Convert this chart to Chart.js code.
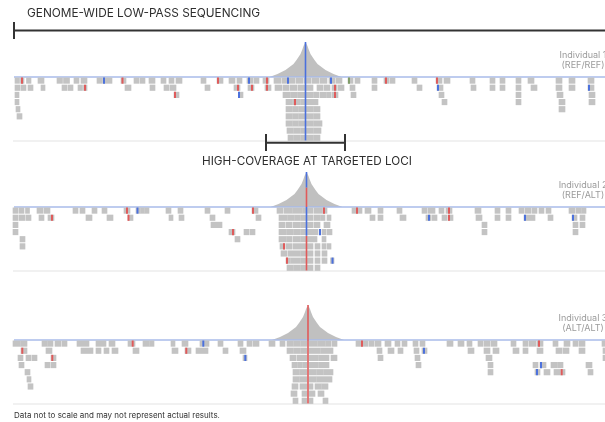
<!DOCTYPE html>
<html>
<head>
<meta charset="utf-8">
<script src="https://cdn.jsdelivr.net/npm/chart.js@4"></script>
<style>
  html, body { margin: 0; padding: 0; background: #fff; }
  canvas { display: block; }
</style>
</head>
<body>
<canvas id="c" width="605" height="422"></canvas>
<script>
// ---- data (positions in track units along the genome) ----
const individuals = ['Individual 1', 'Individual 2', 'Individual 3'];
const genotypes = ['(REF/REF)', '(REF/ALT)', '(ALT/ALT)'];
const locusPos = [305.5, 306.5, 308];
const targetWindow = [266, 345];
const genomeSpan = [14, 612];

// read depth piled up over the targeted locus
const coverageOffset = [-36, -32, -28, -24, -20, -16, -12, -9, -7, -5, -3, -2, -1, 0, 1, 2, 3, 5, 7, 9, 12, 16, 20, 24, 28, 32, 36];
const coverageDepth  = [0, 1.5, 3, 5, 7, 10, 13, 17, 20, 23, 28, 31, 33, 35, 33, 31, 28, 23, 20, 17, 13, 10, 7, 5, 3, 1.5, 0];

// allele carried by each stacked read at the locus
const ind1Locus = ['REF', 'REF', 'REF', 'REF', 'REF', 'REF', 'REF', 'REF', 'REF'];
const ind2Locus = ['REF', 'REF', 'REF', 'REF', 'ALT', 'ALT', 'ALT', 'ALT', 'ALT'];
const ind3Locus = ['ALT', 'ALT', 'ALT', 'ALT', 'ALT', 'ALT', 'ALT', 'ALT', 'ALT'];

// reads per stacking row: [start, end]
const ind1Reads = [
  [[15,19.5],[20.5,24],[26.5,31],[38,44],[57,62.5],[63.5,69.5],[74,79],[81,87],[97,102.5],[103.5,112],[121,126],[134,139],[140,145],[149,155],[161,166],[169,174],[176,182],[201,206],[217,223],[229,235],[237,242],[247,253],[254,259],[263,269],[274,281],[282,288],[289,295],[296,303],[304,311],[312,319],[320,327],[329,335],[336,342],[348,353],[355,360],[372,377],[384,389],[390,395],[412,417],[436,442],[444,450],[470,475],[490,495],[500,505],[516,521],[528,534],[556,562],[569,575],[588,594]],
  [[15,20],[21,26],[28,33],[41,45],[62,67],[68,73],[78,82.5],[83.5,87],[125,131],[150,155],[164,169],[170,176],[205,210],[234,240],[248,254],[265,271],[275,282],[283,289],[290,297],[298,305],[306,313],[317,323],[324,330],[332,337],[338,344],[350,355],[372,377],[417,422],[437,443],[471,476],[490,495],[500,505],[516,521],[531,537],[556,562],[569,575],[588,594]],
  [[15,19],[174,179],[239,243],[283,290],[290.5,297],[297.5,305],[306,313],[313.5,319],[320,326],[326.5,331],[332,338],[351,356],[439,444],[516,521],[557,563],[589,595]],
  [[15,19],[286,292],[292.5,300],[300.5,305],[306,318],[442,447],[516,521],[559,565],[589,595]],
  [[16,20],[286,292],[292.5,298],[298.5,305],[306,313],[313.5,320],[559,565]],
  [[17,22],[286,292],[292.5,298],[298.5,305],[306,313],[313.5,320]],
  [[286,292],[292.5,298],[298.5,305],[306,313],[313.5,322]],
  [[287,293],[293.5,300],[300.5,305],[306,313],[313.5,321]],
  [[288,293],[293.5,300],[300.5,305],[306,313],[313.5,320]]
];
const ind2Reads = [
  [[13,18],[19,24],[25.5,29.5],[37,43],[44,50],[73,78],[80,85],[92,97],[102,107],[124,130],[136,140],[140.5,144],[144.5,149],[166,171],[178,183],[205,210],[225,230],[252,258],[277,283],[284,292],[292.5,302],[302.5,306],[307,313],[314,322],[322.5,327],[352,357],[357.5,362],[365,371],[378,383],[397,402],[422,427],[428,435],[439,444],[446,452],[475,481],[495,500],[506,511],[519,524],[525,531],[532,537],[539,544],[546,551],[569,575],[576,581],[581.5,586]],
  [[13,18],[19,25],[26,31],[39,44],[48,54],[86,92],[107,113],[128,133],[169,173],[179,184],[210,215],[256,261],[279,287],[287.5,294],[294.5,300],[300.5,306],[307,313],[314,320],[320.5,325],[327,331],[370,375],[378,383],[400,406],[426,431],[432,437],[442,447],[448,453],[476,482],[495,500],[506,511],[524,535],[548,553],[572,577],[580,585]],
  [[13,18],[211,222],[279,285],[286,292],[293,300],[300.5,306],[307,313],[314,320],[324,330],[482,487],[573,578],[580,585]],
  [[13,18],[229,235],[244,249],[250,255],[279,286],[286.5,293],[293.5,300],[300.5,306],[307,318],[322,326],[327,332],[482,487],[573,578]],
  [[20,25],[235,240],[279,286],[286.5,292],[293,300],[300.5,306],[307,317],[322,326]],
  [[20,25],[280,285],[286,292],[293,306],[307,313],[315,320],[322,326],[327,331]],
  [[281,287],[288,300],[300.5,306],[307,313],[315,320],[322,327]],
  [[286,290],[290.5,300],[300.5,306],[307,313],[315,320],[322,327],[330.5,334]],
  [[287,293],[293.5,300],[300.5,306],[307,313],[315,320]]
];
const ind3Reads = [
  [[13,20],[20.5,27],[42,47],[47.5,53],[55,61],[62,67],[77,89],[96,106],[109,115],[128,135],[143,149],[149.5,154],[171,175],[182,188],[200,209],[218,223],[238,243],[247,252],[253,259],[269,275],[280,285],[287,293],[293.5,300],[300.5,307],[309,317],[317.5,325],[325.5,331],[332,337],[356,362],[363,368],[369,374],[375,381],[385,391],[395,400],[402,407],[413,418],[420,425],[447,453],[458,464],[467,472],[478,483],[484,490],[491,497],[511,516],[523,528],[529,536],[537,543],[553,558],[564,570],[573,578],[579,585],[602,607]],
  [[21,27],[46,52],[81,93],[96,101],[104,109],[112,118],[133,139],[172,178],[185,191],[196,208],[223,228],[240,246],[287,293],[293.5,300],[300.5,307],[309,320],[320.5,333],[377,382],[388,394],[398,403],[414,419],[422,427],[468,474],[484,490],[493,499],[513,519],[523,528],[537,543],[556,562],[563,569],[579,585],[603,608]],
  [[18,23],[26,31],[32,37],[51,56],[243,247],[290,296],[297,307],[309,318],[318.5,329],[331,337],[378,383],[415,420],[486,492],[603,608]],
  [[19,24],[45,50],[51,56],[292,297],[297.5,302],[302.5,307],[309,318],[318.5,329],[416,421],[488,493],[533,538],[540,546],[551,557],[557.5,563],[586,592]],
  [[25,30],[293,299],[299.5,307],[309,316],[316.5,323],[323.5,333],[488,493],[535,540],[544,550],[554,560],[560.5,565],[588,593]],
  [[27,31],[293,299],[299.5,307],[309,316],[316.5,332]],
  [[28,33],[292,298],[300,307],[309,313],[315,321],[321.5,328]],
  [[291,297],[302,307],[309,315],[318,324]],
  [[293,298],[302,307],[309,313],[323,328]]
];

// mismatching bases inside reads: [row, position]
const ind1Red   = [[0,22],[0,122.5],[0,218],[0,267],[0,386],[0,437],[1,85],[1,238],[1,252],[1,267],[1,335],[2,175],[2,335],[3,295]];
const ind1Blue  = [[0,104],[0,249],[0,288],[0,331],[1,438],[1,589],[2,239]];
const ind1Green = [[0,349]];
const ind2Red   = [[0,127],[0,253],[0,324],[0,357],[0,449],[1,52],[1,128.5],[1,449],[3,233],[5,284],[7,287]];
const ind2Blue  = [[0,137.5],[1,429],[1,525],[1,573],[3,320],[7,332.5]];
const ind2Green = [];
const ind3Red   = [[0,132.7],[0,362],[0,539],[1,22.3],[1,186.3],[2,52.3],[4,561.7]];
const ind3Blue  = [[0,203.3],[1,424],[2,245.3],[3,541],[4,537]];
const ind3Green = [];

// ---- layout ----
const TRACK_BASE = [77, 207, 340];
const PANEL_RULE = [141, 271, 404];
const ROW_PITCH = 7.15;
const READ_H = 5.5;
const MARK_W = 1.3;

const COL = {
  read: '#c3c3c3',
  coverage: '#c0c0c0',
  track: '#a9bbea',
  rule: '#e3e3e3',
  bracket: '#333333',
  REF: '#4a70dd',
  ALT: '#e05a5a',
  green: '#7f9c68'
};

const panels = [
  { reads: ind1Reads, red: ind1Red, blue: ind1Blue, green: ind1Green, locus: ind1Locus },
  { reads: ind2Reads, red: ind2Red, blue: ind2Blue, green: ind2Green, locus: ind2Locus },
  { reads: ind3Reads, red: ind3Red, blue: ind3Blue, green: ind3Green, locus: ind3Locus }
];

const seg = (pts, color, width, order) => ({
  type: 'line', data: pts, borderColor: color, borderWidth: width,
  pointRadius: 0, fill: false, tension: 0, order
});

const datasets = [];

panels.forEach((p, i) => {
  const base = TRACK_BASE[i];
  const cx = locusPos[i];
  const rowY = r => base + 3.6 + r * ROW_PITCH;

  // coverage peak above the track
  datasets.push({
    type: 'line',
    data: coverageOffset.map((o, k) => ({ x: cx + o, y: base - coverageDepth[k] })),
    fill: { value: base },
    backgroundColor: COL.coverage,
    borderWidth: 0, pointRadius: 0, tension: 0, order: 9
  });

  // track line
  datasets.push(seg([{ x: genomeSpan[0], y: base }, { x: genomeSpan[1], y: base }], COL.track, 1.5, 6));

  // panel divider
  datasets.push(seg([{ x: 13, y: PANEL_RULE[i] }, { x: genomeSpan[1], y: PANEL_RULE[i] }], COL.rule, 1, 7));

  // reads
  const readData = [];
  p.reads.forEach((row, r) => row.forEach(([s, e]) => readData.push({ x: [s, e], y: rowY(r) })));
  datasets.push({
    type: 'bar', indexAxis: 'y', grouped: false, data: readData,
    backgroundColor: COL.read, borderWidth: 0, barThickness: READ_H, order: 5
  });

  // mismatches
  [[p.red, COL.ALT], [p.blue, COL.REF], [p.green, COL.green]].forEach(([marks, color]) => {
    if (!marks.length) return;
    datasets.push({
      type: 'bar', indexAxis: 'y', grouped: false,
      data: marks.map(([r, pos]) => ({ x: [pos - MARK_W / 2, pos + MARK_W / 2], y: rowY(r) })),
      backgroundColor: color, borderWidth: 0, barThickness: READ_H, order: 4
    });
  });

  // allele at the locus through the stacked reads
  const n = p.locus.length;
  let start = 0;
  for (let r = 1; r <= n; r++) {
    if (r === n || p.locus[r] !== p.locus[start]) {
      const top = start === 0 ? base : rowY(start) - ROW_PITCH / 2;
      const bottom = r === n ? rowY(n - 1) + READ_H / 2 : rowY(r - 1) + ROW_PITCH / 2;
      datasets.push(seg([{ x: cx, y: top }, { x: cx, y: bottom }], COL[p.locus[start]], 1.6, 2));
      start = r;
    }
  }

  // allele fraction along the coverage peak
  const peak = Math.max(...coverageDepth);
  const refShare = p.locus.filter(a => a === 'REF').length / n;
  const split = base - peak + refShare * peak;
  if (refShare > 0) datasets.push(seg([{ x: cx, y: base - peak }, { x: cx, y: split }], COL.REF, 1.6, 2));
  if (refShare < 1) datasets.push(seg([{ x: cx, y: split }, { x: cx, y: base }], COL.ALT, 1.6, 2));
});

// genome-wide bracket
datasets.push(seg([
  { x: genomeSpan[0], y: 22 }, { x: genomeSpan[0], y: 39 }, { x: genomeSpan[0], y: 30.5 }, { x: genomeSpan[1], y: 30.5 }
], COL.bracket, 2, 1));
// targeted-locus bracket
datasets.push(seg([
  { x: targetWindow[0], y: 134 }, { x: targetWindow[0], y: 151 }, { x: targetWindow[0], y: 142.7 },
  { x: targetWindow[1], y: 142.7 }, { x: targetWindow[1], y: 134 }, { x: targetWindow[1], y: 151 }
], COL.bracket, 2, 1));

const textPlugin = {
  id: 'panelText',
  afterDatasetsDraw(chart) {
    const { ctx, scales: { x, y } } = chart;
    ctx.save();
    ctx.textBaseline = 'alphabetic';

    ctx.fillStyle = '#2e2e2e';
    ctx.font = '11.8px Inter, "Noto Sans", sans-serif';
    ctx.textAlign = 'left';
    ctx.fillText('GENOME-WIDE LOW-PASS SEQUENCING', x.getPixelForValue(27), y.getPixelForValue(17));

    ctx.font = '11.7px Inter, "Noto Sans", sans-serif';
    ctx.textAlign = 'center';
    ctx.fillText('HIGH-COVERAGE AT TARGETED LOCI', x.getPixelForValue(307), y.getPixelForValue(165));

    ctx.fillStyle = '#9b9b9b';
    ctx.font = '9px Inter, "Noto Sans", sans-serif';
    individuals.forEach((name, i) => {
      ctx.fillText(name, x.getPixelForValue(583), y.getPixelForValue(TRACK_BASE[i] - 19));
      ctx.fillText(genotypes[i], x.getPixelForValue(583), y.getPixelForValue(TRACK_BASE[i] - 9));
    });

    ctx.fillStyle = '#333333';
    ctx.font = '8px Inter, "Noto Sans", sans-serif';
    ctx.textAlign = 'left';
    ctx.fillText('Data not to scale and may not represent actual results.', x.getPixelForValue(14), y.getPixelForValue(418));
    ctx.restore();
  }
};

new Chart(document.getElementById('c'), {
  type: 'bar',
  data: { datasets },
  options: {
    responsive: false,
    animation: false,
    devicePixelRatio: 1,
    events: [],
    layout: { padding: 0, autoPadding: false },
    plugins: { legend: { display: false }, tooltip: { enabled: false } },
    scales: {
      x: { type: 'linear', min: 0, max: 605, offset: false, display: false },
      y: { type: 'linear', min: 0, max: 422, offset: false, reverse: true, display: false }
    }
  },
  plugins: [textPlugin]
});
</script>
</body>
</html>
